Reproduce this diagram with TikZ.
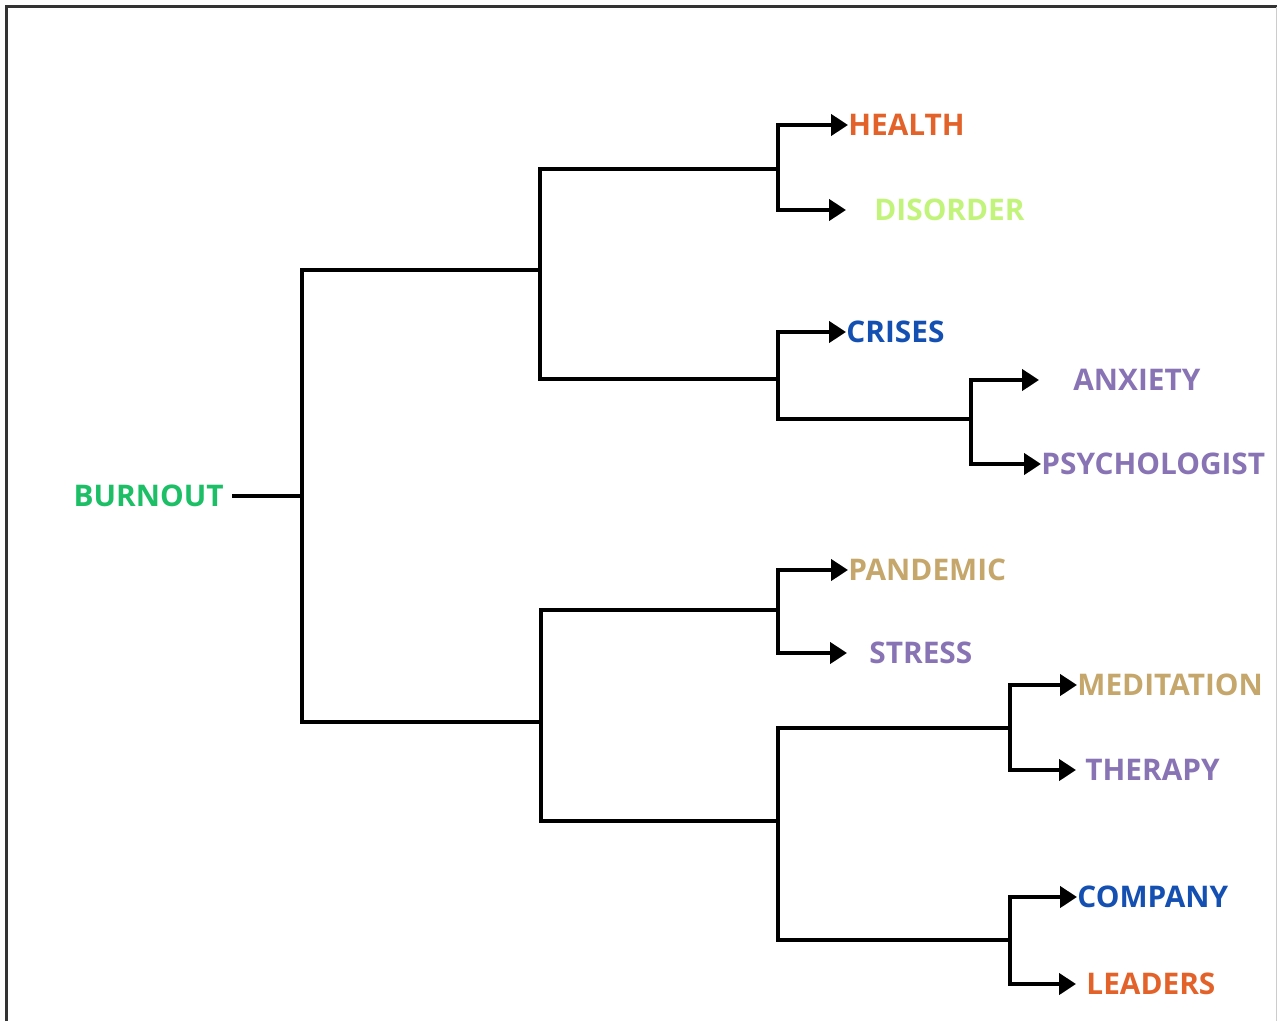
\documentclass[tikz,border=0pt]{standalone}
\usepackage{fontspec}
\setmainfont{Open Sans}
\usetikzlibrary{arrows.meta}

\definecolor{cburn}{HTML}{1CBF66}
\definecolor{corange}{HTML}{E2622A}
\definecolor{clime}{HTML}{C2F47C}
\definecolor{cblue}{HTML}{1450B2}
\definecolor{cpurple}{HTML}{8873B4}
\definecolor{ctan}{HTML}{C5A66B}

\tikzset{
  br/.style={line width=2.4pt,black},
  tip/.style={br,-{Triangle[length=8.5pt,width=10.5pt]}},
  leaf/.style={anchor=west,inner sep=0pt,font=\fontsize{14.9}{18}\selectfont\bfseries}
}

\begin{document}
\begin{tikzpicture}[x=0.5pt,y=-0.5pt]
        \useasboundingbox (0,0) rectangle (1277,1021);
        % frame
        \draw[line width=1.5pt,black!80] (6.5,1021) -- (6.5,7) -- (1277,7);
        \draw[line width=0.5pt,black!20] (1276,7) -- (1276,1021);

        \node[leaf,anchor=east,inner xsep=4pt,text=cburn] (burnout) at (232,496) {BURNOUT};

        \node[leaf,text=corange] (health) at (848,125) {HEALTH};
        \node[leaf,text=clime] (disorder) at (874,210) {DISORDER};
        \node[leaf,text=cblue] (crises) at (846,332) {CRISES};
        \node[leaf,text=cpurple] (anxiety) at (1073,380) {ANXIETY};
        \node[leaf,text=cpurple] (psychologist) at (1041,464) {PSYCHOLOGIST};
        \node[leaf,text=ctan] (pandemic) at (848,570) {PANDEMIC};
        \node[leaf,text=cpurple] (stress) at (869,653) {STRESS};
        \node[leaf,text=ctan] (meditation) at (1077,685) {MEDITATION};
        \node[leaf,text=cpurple] (therapy) at (1085,770) {THERAPY};
        \node[leaf,text=cblue] (company) at (1077,897) {COMPANY};
        \node[leaf,text=corange] (leaders) at (1086,984) {LEADERS};

        % junctions
        \coordinate (r) at (302,496);
        \coordinate (u) at (540,270);
        \coordinate (l) at (541,722);
        \coordinate (uh) at (778,169);
        \coordinate (uc) at (778,379);
        \coordinate (ua) at (971,419);
        \coordinate (lp) at (778,610);
        \coordinate (lm) at (778,821);
        \coordinate (lmt) at (1010,728);
        \coordinate (lmc) at (1010,940);

        \draw[br] (burnout.east) -- (r);
        \draw[br] (u) -| (r) |- (l);
        \draw[br] (uh) -| (u) |- (uc);
        \draw[br] (uc) |- (ua);
        \draw[br] (lp) -| (l) |- (lm);
        \draw[br] (lmt) -| (lm) |- (lmc);

        \draw[tip] (uh) |- (health);
        \draw[tip,shorten >=14pt] (uh) |- (disorder);
        \draw[tip] (uc) |- (crises);
        \draw[tip,shorten >=17pt] (ua) |- (anxiety);
        \draw[tip] (ua) |- (psychologist);
        \draw[tip] (lp) |- (pandemic);
        \draw[tip,shorten >=11pt] (lp) |- (stress);
        \draw[tip] (lmt) |- (meditation);
        \draw[tip,shorten >=4.5pt] (lmt) |- (therapy);
        \draw[tip] (lmc) |- (company);
        \draw[tip,shorten >=5pt] (lmc) |- (leaders);
        \end{tikzpicture}
\end{document}
